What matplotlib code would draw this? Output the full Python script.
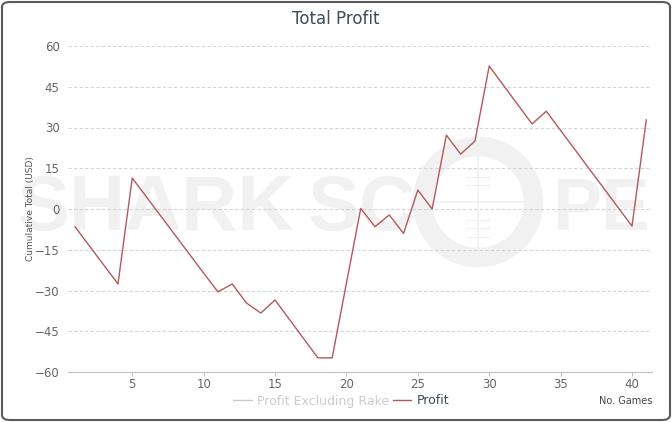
import matplotlib
matplotlib.use('Agg')
import matplotlib.pyplot as plt
from matplotlib.patches import FancyBboxPatch, Circle
from matplotlib.lines import Line2D

# DATOS ---------------------------------------------------------------------

games = list(range(1, 42))
profit = [-6.6, -13.6, -20.6, -27.6, 11.4, 4.4, -2.6, -9.6, -16.6, -23.6,
          -30.5, -27.6, -34.6, -38.3, -33.5, -40.6, -47.7, -54.8, -54.8, -27.3,
          0.2, -6.5, -2.2, -9.0, 7.0, 0.0, 27.2, 20.2, 25.0, 52.6,
          45.5, 38.4, 31.3, 36.0, 28.9, 21.9, 14.8, 7.8, 0.7, -6.3,
          32.8]
y_ticks = [-60, -45, -30, -15, 0, 15, 30, 45, 60]
x_ticks = [5, 10, 15, 20, 25, 30, 35, 40]
series_names = ['Profit Excluding Rake', 'Profit']

plt.rcParams['font.family'] = ['DejaVu Sans']

W, H = 672, 422
fig = plt.figure(figsize=(W / 100, H / 100), dpi=100)
fig.patch.set_facecolor('white')

# borde redondeado
fig.patches.append(FancyBboxPatch((2 / W, 2 / H), 1 - 4 / W, 1 - 4 / H,
                                  boxstyle='round,pad=0,rounding_size=0.012',
                                  transform=fig.transFigure, fill=False,
                                  edgecolor='#5a5a5a', linewidth=1.5, zorder=-5))

# marca de agua ------------------------------------------------------------
wm = '#f1f1f1'
base = 1 - 230 / H
for txt, x0, fs in [('SHARK', 18, 56), ('SC', 308, 56), ('PE', 552, 53)]:
    fig.text(x0 / W, base, txt, fontsize=fs, fontweight='bold',
             family='Liberation Sans', color=wm, va='baseline', ha='left',
             zorder=-3)
cx, cy = 478, H - 202
fig.patches.append(Circle((cx, cy), 55.5, transform=None, fill=False,
                          edgecolor=wm, linewidth=14, zorder=-3))
fig.lines.append(Line2D([cx, cx], [cy - 50, cy + 48], transform=None,
                        color=wm, linewidth=1.2, zorder=-3))
fig.lines.append(Line2D([cx - 50, cx + 46], [cy, cy], transform=None,
                        color=wm, linewidth=1.2, zorder=-3))
for dy in [-35, -26, -18, 17, 25, 33]:
    fig.lines.append(Line2D([cx - 12, cx + 11], [cy + dy, cy + dy],
                            transform=None, color=wm, linewidth=0.8,
                            zorder=-3))

# GRÁFICO -------------------------------------------------------------------

ax = fig.add_axes([68 / W, 1 - 372 / H, (652 - 68) / W, (372 - 46) / H])
ax.patch.set_alpha(0)
ax.plot(games, profit, color='#b5585a', linewidth=1.0, zorder=3)

ax.set_xlim(0.5, 41.4)
ax.set_ylim(-60, 60)
ax.set_yticks(y_ticks)
ax.set_xticks(x_ticks)
ax.grid(True, axis='y', linestyle=(0, (3, 2)), color='#d4d4d4', linewidth=0.8)
for s in ['top', 'right', 'left']:
    ax.spines[s].set_visible(False)
ax.spines['bottom'].set_color('#c0c0c0')
ax.spines['bottom'].set_zorder(4)
ax.tick_params(axis='y', length=0, pad=6, labelsize=8.5, labelcolor='#666666')
ax.tick_params(axis='x', length=3, color='#c0c0c0', pad=1.5, labelsize=8.5,
               labelcolor='#666666')
ax.set_yticklabels([str(v).replace('-', '\u2212') for v in y_ticks])
ax.set_ylabel('Cumulative Total (USD)', fontsize=6.5, color='#555555', labelpad=0)

fig.text(0.5, 1 - 19 / H, 'Total Profit', ha='center', va='center',
         fontsize=12, color='#3d4b5a')

handles = [Line2D([], [], color='#cccccc', linewidth=1),
           Line2D([], [], color='#b5585a', linewidth=1)]
leg = fig.legend(handles, series_names, loc='center', ncol=2,
                 bbox_to_anchor=(341 / W, 1 - 401 / H), frameon=False,
                 fontsize=9, handlelength=1.5, handletextpad=0.4,
                 columnspacing=0.3)
leg.get_texts()[0].set_color('#cccccc')
leg.get_texts()[1].set_color('#3d4b5a')

fig.text(652 / W, 1 - 401 / H, 'No. Games', ha='right', va='center',
         fontsize=7, color='#444444')

fig.savefig('out.png', dpi=100)
